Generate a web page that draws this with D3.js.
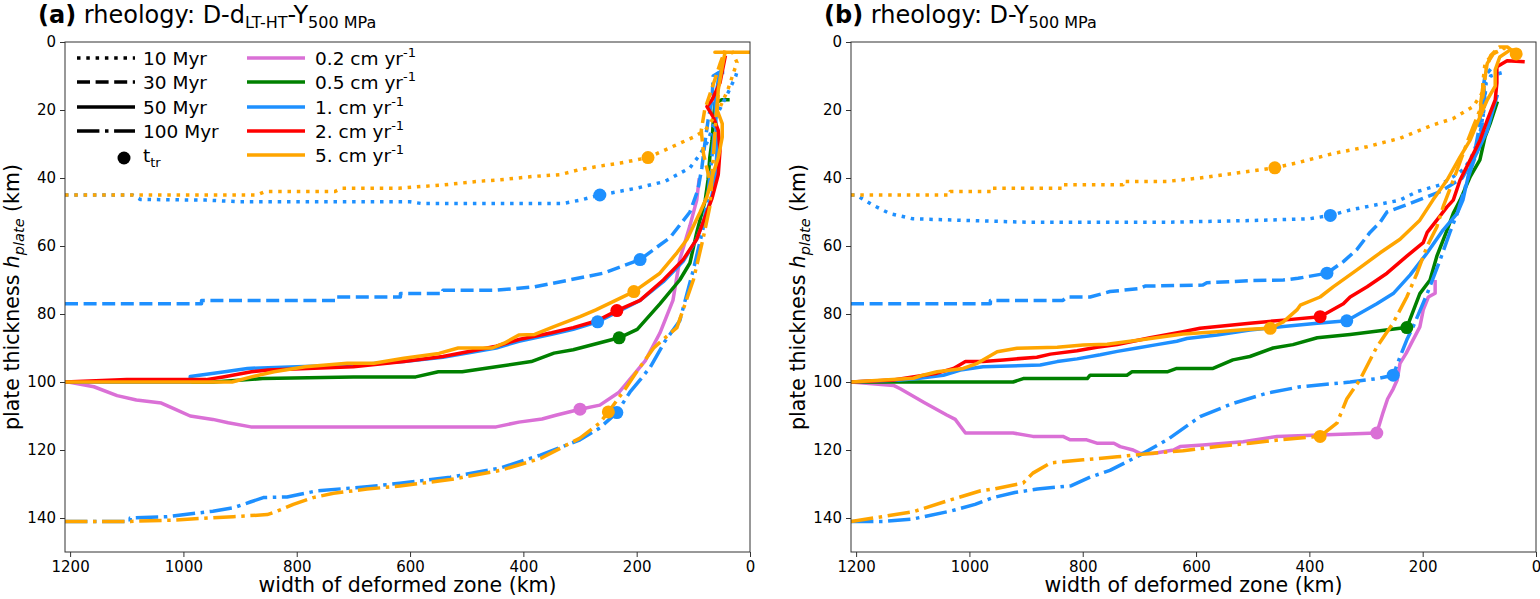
<!DOCTYPE html>
<html>
<head>
<meta charset="utf-8">
<script src="https://cdn.jsdelivr.net/npm/d3@7"></script>
<style>
body { margin: 0; background: #fff; }
text { font-family: "DejaVu Sans", sans-serif; fill: #000; }
</style>
</head>
<body>
<script>
// velocities and ages
const velocities = ["0.2", "0.5", "1.", "2.", "5."]
const velColors = ["orchid", "green", "dodgerblue", "red", "orange"]
const ages = ["10 Myr", "30 Myr", "50 Myr", "100 Myr"]
const xTicks = [1200, 1000, 800, 600, 400, 200, 0]
const yTicks = [0, 20, 40, 60, 80, 100, 120, 140]

// panel (a): [width km, plate thickness km]
const aPink50 = [[1209,100],[1203,100],[1158,101.4],[1117,104],[1083,105.3],[1039,106.2],[1015,108],[988,110],[948,111],[921,112],[881,113.2],[448,113.2],[408,111.8],[367,110.9],[341,109.7],[300,108],[265,106.8],[231,103],[219,100.6],[185,93.8],[159,85.6],[136,76],[124,64],[106,54],[94,46.5],[90,40.6]]
const aGreen50 = [[1209,100],[947,100],[860,99],[700,98.5],[590,98.5],[550,97],[508,97],[448,95.5],[386,94],[346,91.5],[312,90.5],[231,87],[199,84.5],[159,77],[124,70],[106,65],[94,56],[79,46.5],[74,40.5],[71,34],[67,29],[65,24],[62,18],[50,17],[39,17]]
const aBlue10 = [[1209,45],[1090,45],[1076,46.3],[960,46.5],[900,47],[600,47],[580,47.5],[330,47.5],[300,46.5],[265,45],[200,43],[150,41],[106,37],[88,33],[74,29],[60,22],[39,15],[25,10],[22,8]]
const aBlue30 = [[1209,77],[968,77],[968,76],[731,76],[731,75],[617,75],[617,74],[542,74],[542,73],[448,73],[380,72],[319,70],[259,68],[194,64],[141,57.5],[106,50],[92,43.5],[85,37],[79,29],[74,23],[67,17],[65,10],[55,9],[41,9]]
const aBlue50 = [[1209,100],[988,100],[988,98.4],[927,97],[887,96],[800,95.5],[700,95],[611,94],[542,92.7],[448,90],[408,88],[350,86],[312,84.5],[269,82.3],[235,79.5],[194,76],[153,70.5],[118,64.5],[94,58],[76,50],[67,45],[60,38],[58,30],[60,24],[62,18],[55,10],[50,8]]
const aBlue100 = [[1209,141],[1094,141],[1094,140],[1029,139.6],[948,138],[912,137],[882,135.3],[859,134],[817,133.8],[794,133],[764,132],[676,130.8],[618,129.8],[529,128],[441,125.3],[370,121.5],[300,117],[265,113.5],[235,109],[212,103],[194,99.4],[176,95.6],[150,88],[124,82],[100,67],[83,55],[74,44.5],[68,35],[62,25],[58,17]]
const aRed50 = [[1209,100],[1100,99.3],[960,99.3],[930,98.5],[880,97],[850,96.5],[700,95.5],[611,94],[542,92.5],[448,89.5],[408,87.5],[350,85.5],[312,84],[270,82],[235,79],[194,76],[153,70],[118,64],[94,58],[76,50],[67,46],[56,39],[53,32],[56,26],[65,22],[76,19],[67,17],[53,12],[44,4.5]]
const aOrange10 = [[1209,45],[870,45],[856,44],[733,44],[720,43],[620,43],[540,42],[480,41],[440,40.5],[380,39.5],[335,39],[300,37.5],[265,36.5],[229,35.6],[180,34],[140,31],[100,28],[79,26],[55,20],[39,14],[23,6],[35,1.5]]
const aOrange30 = [[72,40],[82,33],[86,26],[80,20],[66,13],[52,6],[44,2.5]]
const aOrange50 = [[1209,100],[914,100],[880,98.5],[840,97],[785,95.5],[711,94.5],[664,94.5],[611,93],[549,91.6],[515,90],[455,90],[434,88.6],[408,86.2],[380,86],[346,83.7],[300,80.8],[272,78.8],[205,73.4],[159,68],[129,62],[111,58],[88,50],[76,45.5],[65,38.7],[56,34],[49,28],[49,24],[58,20],[56,14],[49,7.3],[44,3],[62,3],[0,3]]
const aOrange100 = [[1209,141],[1094,141],[1017,140.6],[912,139.6],[852,139],[835,138],[806,136],[771,134],[735,132.7],[676,131.5],[618,130.6],[529,128.7],[441,126],[370,122.5],[300,116.5],[265,112],[250,108.8],[220,102],[200,97],[170,90],[150,87],[129,84],[100,70],[83,58],[71,48.5],[67,40],[64,32],[60,22],[56,15]]

// panel (b)
const bPink50 = [[1209,100],[1134,101],[1122,102],[1080,106],[1040,109.7],[1025,111],[1016,113],[1007,115],[923,115],[888,116],[835,116],[822,117],[793,117],[775,118],[745,118],[734,119],[711,120],[699,121],[676,121],[640,120],[628,119],[588,118.5],[517,117.6],[457,116],[281,115],[270,109],[262,105],[252,102],[245,99.4],[240,94.5],[229,91.5],[217,87.6],[205,83.8],[199,78.8],[190,75],[178,73.9],[178,70.5]]
const bGreen50 = [[1209,100],[923,100],[905,99],[792,99],[787,98],[722,98],[713,97],[651,97],[634,96],[570,96],[535,93.5],[505,92.5],[464,90],[429,89],[386,87],[328,86],[240,84.2],[228,84],[205,74],[187,70],[175,63],[157,55.3],[146,50.4],[134,46.5],[116,39.6],[99,34.7],[90,28],[81,24],[69,18]]
const bBlue10 = [[1209,45],[1200,45],[1170,48],[1140,50.5],[1100,52],[1000,52.5],[900,53],[650,53],[500,52.5],[400,52],[363,51],[328,49.4],[270,47.5],[240,46.5],[210,44],[169,42],[146,39.6],[129,37.6],[116,34.7],[100,28],[92,20],[88,12],[80,10],[60,9]]
const bBlue30 = [[1209,77],[963,77],[963,76],[835,76],[828,75],[787,75],[752,73.4],[699,72.5],[690,71.8],[588,71.5],[581,70.8],[505,70.2],[446,70],[420,69.5],[369,68],[340,64.6],[316,61],[293,56],[275,53],[263,50],[222,47.5],[169,44],[130,40],[110,34],[100,25],[95,15],[90,10],[80,8]]
const bBlue50 = [[1209,100],[1122,99.4],[1092,99],[1046,98],[1016,96.5],[976,95.5],[875,95],[845,94],[810,93.2],[769,92],[739,91],[704,90],[669,89],[634,88],[616,87.2],[563,86.2],[505,84.7],[446,83.7],[386,82.7],[334,82],[281,77],[252,74],[222,68.5],[192,62],[164,55.3],[139,50.4],[129,46.5],[116,36.7],[86,26],[76,20],[69,16]]
const bBlue100 = [[1209,141],[1150,141],[1100,140.3],[1034,138],[990,136],[958,134],[920,132.5],[880,131.5],[820,130.5],[787,128],[752,126],[699,121.5],[651,117],[593,110.2],[535,106.3],[475,103.3],[416,101.4],[328,100],[280,99],[252,98],[240,92.6],[228,87.6],[217,83.8],[192,74],[169,64],[152,56],[139,50.4],[120,40],[99,29.7],[90,17],[93,11.7]]
const bRed50 = [[1209,100],[1134,99.4],[1100,98.5],[1057,97.4],[1028,96],[1007,94],[976,94],[940,93.5],[881,92.7],[857,91.8],[810,90.8],[775,89.8],[739,89],[711,88],[681,87],[623,85.2],[593,84.2],[505,82.7],[446,81.8],[381,80.8],[340,77],[328,75],[298,72],[263,68],[228,63],[199,59],[192,56],[175,52.4],[157,48.5],[146,46.5],[134,40.6],[99,29],[86,23],[72,17],[69,12],[69,7.3],[51,5.5],[23,5.8]]
const bOrange10 = [[1209,45],[1034,45],[1034,44],[960,44],[960,43],[835,43],[835,42],[729,42],[729,41],[651,41],[593,40],[461,37],[416,35.3],[358,32.8],[298,30.8],[240,28.3],[182,24.4],[146,22.5],[111,19],[95,15],[93,10.7],[90,6.3],[75,3.3],[58,1.8],[40,2.4],[32,3.8]]
const bOrange30 = [[100,22],[93,15],[88,8],[80,4],[65,1.5],[50,1.5],[35,3.5]]
const bOrange50 = [[1209,100],[1099,98.9],[1082,98],[1057,97],[1011,96],[986,94.5],[951,91.1],[916,90.1],[845,89.8],[799,89.1],[757,88.9],[693,87.5],[623,85.9],[563,85.2],[505,84.5],[469,84.2],[446,82.3],[422,78.8],[416,77.4],[381,75],[358,72],[316,67],[275,62],[240,58],[205,52.4],[182,46.5],[157,40.6],[134,33.8],[116,28.8],[99,22],[86,17],[72,13],[72,8.2],[64,4.4],[46,2.4],[34,3.3]]
const bOrange100 = [[1209,141],[1150,139.5],[1100,138.2],[1034,134.7],[980,132],[958,131.5],[905,129.7],[888,126.8],[857,123.8],[799,122.9],[739,122],[681,121],[623,120.2],[563,119],[505,118],[446,116.9],[381,116],[351,112],[334,105],[311,99.4],[281,89.7],[252,82.6],[228,75],[210,68],[192,60],[175,54.4],[164,48.5],[140,38],[122,29.7],[111,25],[99,20],[93,12],[86,6.3],[75,3.4],[55,1.8]]

// series table: velocity index, age index, points, t_tr marker
const seriesA = [
  {v:0, a:2, pts:aPink50, ttr:[300,108]},
  {v:1, a:2, pts:aGreen50, ttr:[231,87]},
  {v:2, a:0, pts:aBlue10, ttr:[265,45]},
  {v:2, a:1, pts:aBlue30, ttr:[194,64]},
  {v:2, a:2, pts:aBlue50, ttr:[269,82.3]},
  {v:2, a:3, pts:aBlue100, ttr:[235,109]},
  {v:3, a:2, pts:aRed50, ttr:[235,79]},
  {v:4, a:0, pts:aOrange10, ttr:[180,34]},
  {v:4, a:1, pts:aOrange30, ttr:null},
  {v:4, a:2, pts:aOrange50, ttr:[205,73.4]},
  {v:4, a:3, pts:aOrange100, ttr:[250,108.8]}
]
const seriesB = [
  {v:0, a:2, pts:bPink50, ttr:[281,115]},
  {v:1, a:2, pts:bGreen50, ttr:[228,84]},
  {v:2, a:0, pts:bBlue10, ttr:[363,51]},
  {v:2, a:1, pts:bBlue30, ttr:[369,68]},
  {v:2, a:2, pts:bBlue50, ttr:[334,82]},
  {v:2, a:3, pts:bBlue100, ttr:[252,98]},
  {v:3, a:2, pts:bRed50, ttr:[381,80.8]},
  {v:4, a:0, pts:bOrange10, ttr:[461,37]},
  {v:4, a:1, pts:bOrange30, ttr:[35,3.5]},
  {v:4, a:2, pts:bOrange50, ttr:[469,84.2]},
  {v:4, a:3, pts:bOrange100, ttr:[381,116]}
]

let width = 1540
let height = 599
let pw = 685, ph = 510
let lw = 3.5
// matplotlib dotted, dashed, solid, dashdot scaled by linewidth
let dashes = ["3.5,5.8", "13,5.6", null, "22.4,5.6,3.5,5.6"]

let svg = d3.select("body").append("svg")
    .attr("width", width)
    .attr("height", height)

let xScale = d3.scaleLinear().domain([1209, 0]).range([0, pw])
let yScale = d3.scaleLinear().domain([0, 150]).range([0, ph])
let line = d3.line().x(d => xScale(d[0])).y(d => yScale(d[1]))

function drawPanel(left, top, id, tag, series, titleBits) {
    let g = svg.append("g").attr("transform", "translate(" + left + "," + top + ")")

    g.append("clipPath").attr("id", "clip" + id)
        .append("rect").attr("width", pw).attr("height", ph)

    let plot = g.append("g").attr("clip-path", "url(#clip" + id + ")")

    series.forEach(s => {
        plot.append("path")
            .attr("d", line(s.pts))
            .attr("fill", "none")
            .attr("stroke", velColors[s.v])
            .attr("stroke-width", lw)
            .attr("stroke-linejoin", "round")
            .attr("stroke-linecap", s.a == 2 ? "square" : "butt")
            .attr("stroke-dasharray", dashes[s.a])
    })
    series.filter(s => s.ttr).forEach(s => {
        plot.append("circle")
            .attr("cx", xScale(s.ttr[0]))
            .attr("cy", yScale(s.ttr[1]))
            .attr("r", 6.5)
            .attr("fill", velColors[s.v])
    })

    // axes
    let xAxis = d3.axisBottom(xScale).tickValues(xTicks).tickFormat(d3.format("d")).tickSize(5).tickPadding(4)
    let yAxis = d3.axisLeft(yScale).tickValues(yTicks).tickFormat(d3.format("d")).tickSize(5).tickPadding(4)
    let gx = g.append("g").attr("transform", "translate(0," + ph + ")").call(xAxis)
    let gy = g.append("g").call(yAxis)
    ;[gx, gy].forEach(a => {
        a.select(".domain").remove()
        a.selectAll("line").attr("stroke", "#333")
        a.selectAll("text").attr("font-size", 15).attr("font-family", "DejaVu Sans").attr("fill", "#000")
    })
    g.append("rect").attr("width", pw).attr("height", ph)
        .attr("fill", "none").attr("stroke", "#333").attr("stroke-width", 1)

    // axis labels
    g.append("text")
        .attr("x", pw / 2).attr("y", 550)
        .attr("text-anchor", "middle").attr("font-size", 20.5)
        .text("width of deformed zone (km)")
    let yl = g.append("text")
        .attr("transform", "translate(" + (-46) + "," + (ph / 2) + ") rotate(-90)")
        .attr("text-anchor", "middle").attr("font-size", 20.5)
    yl.append("tspan").text("plate thickness ")
    yl.append("tspan").attr("font-style", "italic").text("h")
    yl.append("tspan").attr("font-style", "italic").attr("font-size", 14.5).attr("dy", 5).text("plate")
    yl.append("tspan").attr("dy", -5).text(" (km)")

    // title
    let t = g.append("text").attr("x", -27).attr("y", -19.5).attr("font-size", 24)
    t.append("tspan").attr("font-weight", "bold").text(tag)
    titleBits.forEach(b => {
        t.append("tspan")
            .attr("font-size", b.sub ? 16 : 24)
            .attr("dy", b.sub ? 5 : (b.after ? -5 : 0))
            .text(b.text)
    })
    return g
}

let gA = drawPanel(65, 42, "a", "(a)", seriesA, [
    {text: " rheology: D-d"}, {text: "LT-HT", sub: true}, {text: "-Y", after: true}, {text: "500 MPa", sub: true}
])
drawPanel(851, 42, "b", "(b)", seriesB, [
    {text: " rheology: D-Y"}, {text: "500 MPa", sub: true}
])

// legend in panel (a)
let leg = gA.append("g")
let rowY = [16, 40, 65, 89, 113]
ages.forEach((a, i) => {
    leg.append("line")
        .attr("x1", 12).attr("x2", 70).attr("y1", rowY[i]).attr("y2", rowY[i])
        .attr("stroke", "#000").attr("stroke-width", lw)
        .attr("stroke-dasharray", dashes[i])
    leg.append("text").attr("x", 78).attr("y", rowY[i] + 7)
        .attr("font-size", 18.5).text(a)
})
leg.append("circle").attr("cx", 59).attr("cy", rowY[4] + 3).attr("r", 6.5).attr("fill", "#000")
let tt = leg.append("text").attr("x", 78).attr("y", rowY[4] + 7).attr("font-size", 18.5)
tt.append("tspan").text("t")
tt.append("tspan").attr("font-size", 13).attr("dy", 5).text("tr")

velocities.forEach((v, i) => {
    leg.append("line")
        .attr("x1", 182).attr("x2", 240).attr("y1", rowY[i]).attr("y2", rowY[i])
        .attr("stroke", velColors[i]).attr("stroke-width", lw)
    let tx = leg.append("text").attr("x", 250).attr("y", rowY[i] + 7).attr("font-size", 18.5)
    tx.append("tspan").text(v + " cm yr")
    tx.append("tspan").attr("font-size", 13).attr("dy", -8).text("-1")
})
</script>
</body>
</html>
